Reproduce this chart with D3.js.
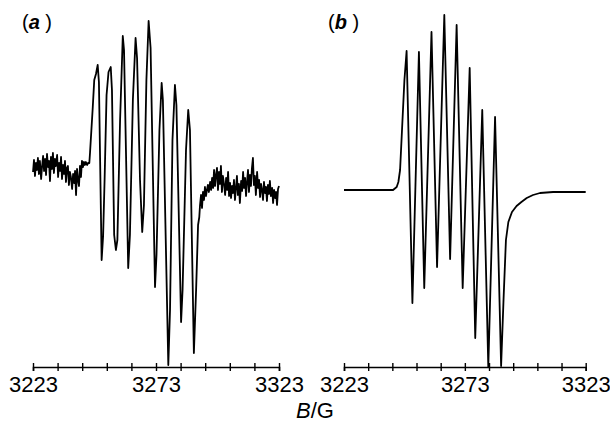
<!DOCTYPE html>
<html>
<head>
<meta charset="utf-8">
<script src="https://cdn.jsdelivr.net/npm/d3@7"></script>
<style>
  html, body { margin: 0; padding: 0; background: #fff; }
  svg { display: block; font-family: "Liberation Sans", Arial, sans-serif; }
</style>
</head>
<body>
<svg id="chart" width="610" height="423"></svg>
<script>
// field axis (G)
var fieldTicks = [3223, 3233, 3243, 3253, 3263, 3273, 3283, 3293, 3303, 3313, 3323];
var fieldLabels = [3223, 3273, 3323];

// (a) experimental spectrum: [B / G, intensity (arb.)]
var expLeftNoise = [
  [3223.0, 18], [3223.4, 30], [3223.8, 14], [3224.2, 27], [3224.6, 20], [3225.0, 32], [3225.4, 16],
  [3225.8, 29], [3226.3, 11], [3226.7, 24], [3227.1, 34], [3227.5, 19], [3227.9, 31], [3228.3, 15],
  [3228.7, 36], [3229.1, 23], [3229.5, 29], [3229.9, 9], [3230.3, 33], [3230.7, 21], [3231.1, 37],
  [3231.5, 17], [3231.9, 31], [3232.3, 24], [3232.8, 35], [3233.2, 13], [3233.6, 27], [3234.0, 19],
  [3234.4, 33], [3234.8, 11], [3235.2, 25], [3235.6, 16], [3236.0, 29], [3236.4, 8], [3236.8, 22],
  [3237.2, 24], [3237.6, 5], [3238.0, 18], [3238.4, 13], [3238.9, 1], [3239.3, 16], [3239.7, 7],
  [3240.1, 19], [3240.5, -5], [3240.9, 21], [3241.3, 10], [3241.7, 4], [3242.1, 24], [3242.5, 13],
  [3242.9, 29], [3243.3, 23], [3243.7, 28], [3244.1, 25], [3244.5, 28], [3245.0, 25], [3245.4, 27]
];
var expLines = [
  [3245.9, 27], [3246.2, 38], [3247.3, 83], [3247.9, 110], [3248.6, 116], [3249.3, 125], [3249.8, 108],
  [3250.9, -70], [3251.5, -46], [3252.1, 10], [3252.9, 95], [3253.7, 118], [3254.6, 123], [3255.1, 100],
  [3256.0, -45], [3256.7, -60], [3257.3, -50], [3258.4, 70], [3259.5, 154], [3260.0, 140],
  [3261.7, -78], [3262.4, -45], [3263.6, 90], [3264.7, 152], [3265.3, 132],
  [3266.5, 10], [3267.4, -42], [3268.1, -15], [3269.1, 110], [3270.0, 169], [3270.8, 142],
  [3272.6, -97], [3273.2, -65], [3274.4, 60], [3275.3, 107], [3275.8, 90],
  [3278.0, -175], [3278.7, -120], [3279.7, 50], [3280.7, 105], [3281.3, 85],
  [3283.2, -132], [3283.8, -100], [3285.2, 40], [3286.1, 80], [3286.8, 60],
  [3288.4, -163], [3289.3, -100], [3290.1, -35], [3290.6, -27]
];
var expRightNoise = [
  [3290.9, -15], [3291.3, -5], [3291.7, -18], [3292.1, -2], [3292.5, -10], [3292.9, 3], [3293.3, -6],
  [3293.7, 0], [3294.1, 5], [3294.5, -2], [3295.0, 8], [3295.4, 0], [3295.8, 12], [3296.2, 2],
  [3296.6, 20], [3297.0, 4], [3297.4, 15], [3297.8, 22], [3298.2, 0], [3298.6, 18], [3299.0, 6],
  [3299.4, 24], [3299.8, -2], [3300.2, 14], [3300.7, 5], [3301.1, -5], [3301.5, 12], [3301.9, 0],
  [3302.3, 18], [3302.7, -6], [3303.1, 7], [3303.5, -8], [3303.9, 4], [3304.3, -3], [3304.7, 10],
  [3305.1, -10], [3305.5, 2], [3305.9, 14], [3306.3, -5], [3306.7, 6], [3307.1, -13], [3307.6, 9],
  [3308.0, -1], [3308.4, 18], [3308.8, 2], [3309.2, 12], [3309.6, -6], [3310.0, 8], [3310.4, 20],
  [3310.8, -2], [3311.2, 15], [3311.6, 4], [3312.0, 22], [3312.4, 32], [3312.8, 5], [3313.2, 14],
  [3313.6, -5], [3314.1, 18], [3314.5, 2], [3314.9, 10], [3315.3, -7], [3315.7, 6], [3316.1, 0],
  [3316.5, -10], [3316.9, 8], [3317.3, -3], [3317.7, 3], [3318.1, -11], [3318.5, 5], [3318.9, -4],
  [3319.3, 9], [3319.7, -6], [3320.2, 2], [3320.6, -13], [3321.0, 0], [3321.4, -8], [3321.8, -2],
  [3322.2, -15], [3322.6, 1], [3323.0, 4]
];

// (b) simulated spectrum
var simSpectrum = [
  [3223.0, 0], [3243.3, 0], [3244.8, 3], [3245.5, 8], [3246.2, 20], [3247.0, 60], [3248.0, 110],
  [3248.9, 139], [3251.3, -113], [3254.0, 138], [3256.2, -98], [3259.2, 158], [3261.5, -77],
  [3264.5, 175], [3266.9, -69], [3269.6, 165], [3272.1, -98], [3275.0, 122], [3277.3, -148],
  [3280.2, 80], [3282.7, -177], [3285.5, 73], [3288.0, -176], [3289.0, -110], [3290.0, -50],
  [3291.0, -32], [3292.5, -22], [3294.4, -16], [3296.4, -12], [3298.6, -8], [3301.2, -5],
  [3304.1, -3], [3309.5, -2], [3323.0, -2]
];

var svg = d3.select("#chart");
var y = d3.scaleLinear().domain([-180, 180]).range([370, 10]);
var axisY = 367;

function panel(x, data, tag, tagX) {
  var line = d3.line()
    .x(function (d) { return x(d[0]); })
    .y(function (d) { return y(d[1]); })
    .curve(d3.curveLinear);
  svg.append("path").datum(data)
    .attr("d", line)
    .attr("fill", "none").attr("stroke", "#000")
    .attr("stroke-width", 1.8).attr("stroke-linejoin", "round");

  var ax = d3.axisBottom(x).tickValues(fieldTicks).tickSize(4)
    .tickFormat(function (d) { return fieldLabels.indexOf(d) >= 0 ? d : ""; });
  var g = svg.append("g").attr("transform", "translate(0," + axisY + ")").call(ax);
  g.select(".domain").attr("stroke", "#000").attr("stroke-width", 1.6);
  g.selectAll(".tick line").attr("y1", -4).attr("y2", 4).attr("stroke", "#000").attr("stroke-width", 1.4);
  g.selectAll(".tick text").attr("y", 25).attr("dy", null)
    .attr("fill", "#000").style("font-size", "22px");

  var t = svg.append("text").attr("x", tagX).attr("y", 29).style("font-size", "20px");
  t.append("tspan").text("(");
  t.append("tspan").style("font-style", "italic").style("font-weight", "bold").text(tag);
  t.append("tspan").text(" )");
}

panel(d3.scaleLinear().domain([3223, 3323]).range([33, 279]),
  expLeftNoise.concat(expLines, expRightNoise), "a", 22);
panel(d3.scaleLinear().domain([3223, 3323]).range([344, 585.7]),
  simSpectrum, "b", 328);

var lab = svg.append("text").attr("x", 315).attr("y", 418)
  .attr("text-anchor", "middle").style("font-size", "22px");
lab.append("tspan").style("font-style", "italic").text("B");
lab.append("tspan").text("/G");
</script>
</body>
</html>
